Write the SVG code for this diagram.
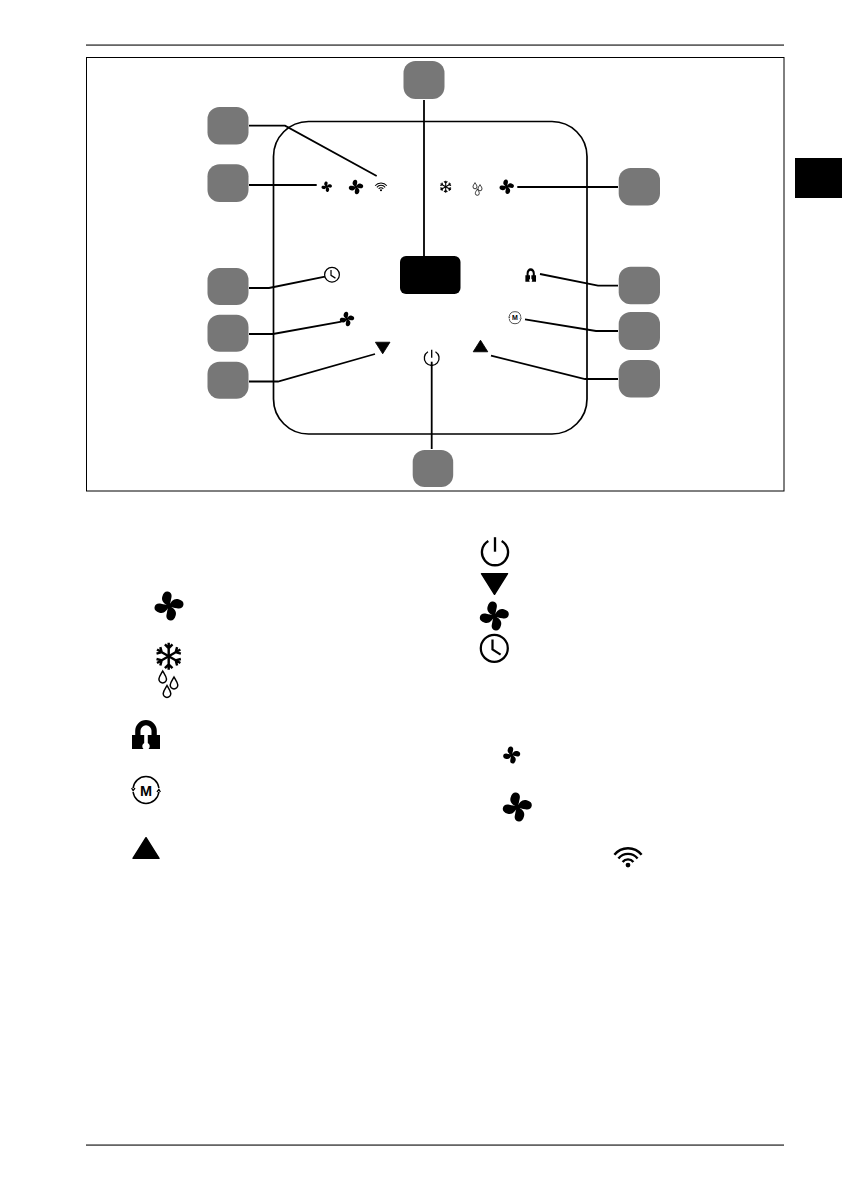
<svg xmlns="http://www.w3.org/2000/svg" width="842" height="1191" viewBox="0 0 842 1191">
<style>
.n{fill:#777}
.c{fill:none;stroke:#000;stroke-width:1.8;stroke-linejoin:miter}
.i{fill:none;stroke:#000;stroke-linecap:butt}
.m{font-family:"Liberation Sans",Arial,sans-serif;font-weight:700;text-anchor:middle;fill:#000;opacity:.99}
</style>
<defs>
<g id="fan"><path id="blade" d="M0.3,0.3C-3.3,-1.3 -5.6,-3.6 -4.6,-6.6C-3.9,-9 -2.6,-10.2 -1,-10C1.5,-9.8 2.2,-7.5 1.6,-5.5C1.2,-3.5 0.9,-2 0.3,0.3Z" fill="#000"/><use href="#blade" transform="rotate(90)"/><use href="#blade" transform="rotate(180)"/><use href="#blade" transform="rotate(270)"/><circle r="1.8" fill="#000"/></g>
<g id="clock" class="i"><circle r="9" stroke-width="1.5"/><path d="M-1.2,-5.8V0.8L4.2,4.2" stroke-width="1.5"/></g>
<g id="power" class="i"><path d="M-4.6,-7.6A9,9 0 1 0 4.6,-7.6" stroke-width="1.6"/><path d="M0,-10.2V-0.2" stroke-width="1.6"/></g>
<g id="snow" class="i" stroke-width="1.8"><g id="arm"><path d="M0,-10V10M-2.8,-8.8L0,-6L2.8,-8.8M-2.8,8.8L0,6L2.8,8.8"/></g><use href="#arm" transform="rotate(60)"/><use href="#arm" transform="rotate(120)"/></g>
<path id="drop" d="M0,-5.6C1.8,-2.6 3.3,-0.8 3.3,1.4A3.3,3.3 0 0 1 -3.3,1.4C-3.3,-0.8 -1.8,-2.6 0,-5.6Z" fill="#fff" stroke="#000" stroke-width="1.3"/>
<path id="lock" d="M-14,0H-10.8V-4.2A10.8,10.8 0 0 1 10.8,-4.2V0H14V14H2.5A3.7,3.7 0 0 0 1.8,7.97V0H5.5V-4.2A5.5,5.5 0 0 0 -5.5,-4.2V0H-1.8V7.97A3.7,3.7 0 0 0 -2.5,14H-14Z" fill="#000"/>
<g id="ring" class="i" stroke-width="1.5"><path d="M-12.9,-2A13,13 0 0 1 12.9,-2M12.9,2A13,13 0 0 1 -12.9,2"/><path d="M-14.4,-2L-12.9,0.6L-11,-2M14.4,2L12.9,-0.6L11,2" stroke-width="1.3"/></g>
<path id="up" d="M0,-10.3L13,10.3H-13Z" fill="#000" stroke="#000" stroke-width="1.5" stroke-linejoin="round"/>
<g id="wifi" class="i" stroke-width="2.4"><path d="M-13.6,-8.8A17.5,17.5 0 0 1 13.6,-8.8M-9.6,-5A12.2,12.2 0 0 1 9.6,-5M-5.4,-1.6A7,7 0 0 1 5.4,-1.6"/><circle cy="1.6" r="2.4" fill="#000" stroke="none"/></g>
</defs>

<g id="page">
<rect x="86" y="44.3" width="698" height="1.6" fill="#555"/>
<rect x="86" y="1144.3" width="698" height="1.6" fill="#555"/>
<rect x="795" y="158" width="47" height="40" fill="#000"/>
<rect x="86.5" y="57.5" width="697.5" height="433.5" fill="none" stroke="#000" stroke-width="1"/>
</g>

<g id="panel">
<rect x="273.5" y="121.5" width="313.5" height="312.5" rx="35" fill="none" stroke="#000" stroke-width="1.7"/>
<rect id="display" x="400" y="256" width="60.5" height="38" rx="6" fill="#000"/>
</g>

<g id="connectors">
<path class="c" d="M249,125.7H285L376.7,176"/>
<path class="c" d="M249,185H316.7"/>
<path class="c" d="M424,100V258"/>
<path class="c" d="M249,288H269L325,276.7"/>
<path class="c" d="M249,334H273L341.5,321.7"/>
<path class="c" d="M249,381.5H278L375,354"/>
<path class="c" d="M431.7,361.7V449"/>
<path class="c" d="M517.3,187H618"/>
<path class="c" d="M540,274L598,285.7H618"/>
<path class="c" d="M525,319.3L596,331H618"/>
<path class="c" d="M491,355.7L585,379H618"/>
</g>

<g id="node-1"><rect class="n" x="403.5" y="61" width="41" height="38" rx="12"/></g>
<g id="node-2"><rect class="n" x="207.5" y="107" width="41" height="37.5" rx="12"/></g>
<g id="node-3"><rect class="n" x="207.5" y="164.3" width="41" height="37.7" rx="12"/></g>
<g id="node-4"><rect class="n" x="207.5" y="268" width="41" height="37" rx="12"/></g>
<g id="node-5"><rect class="n" x="207.5" y="314.7" width="41" height="37" rx="12"/></g>
<g id="node-6"><rect class="n" x="207.5" y="361.7" width="41" height="37" rx="12"/></g>
<g id="node-7"><rect class="n" x="412.7" y="450" width="40.5" height="37" rx="12"/></g>
<g id="node-8"><rect class="n" x="618.7" y="168" width="41.3" height="37.5" rx="12"/></g>
<g id="node-9"><rect class="n" x="618.7" y="266.7" width="41.3" height="37.5" rx="12"/></g>
<g id="node-10"><rect class="n" x="618.7" y="312" width="41.3" height="38" rx="12"/></g>
<g id="node-11"><rect class="n" x="618.7" y="360" width="41.3" height="37.5" rx="12"/></g>

<g id="panel-icons">
<use href="#fan" transform="translate(326.7,186.7) scale(.52)"/>
<use href="#fan" transform="translate(356,187) scale(.72)"/>
<use href="#wifi" transform="translate(381,189.5) scale(.43)"/>
<use href="#snow" transform="translate(445.7,186.7) scale(.6)"/>
<use href="#drop" transform="translate(475,186) scale(.6)"/>
<use href="#drop" transform="translate(480,188) scale(.6)"/>
<use href="#drop" transform="translate(477.3,192.5) scale(.6)"/>
<use href="#fan" transform="translate(506.7,186.7) scale(.72)"/>
<use href="#lock" transform="translate(530.7,275.2) scale(.38,.46)"/>
<use href="#ring" transform="translate(515,317.7) scale(.45)"/>
<text class="m" x="515" y="320.4" font-size="7">M</text>
<use href="#up" transform="translate(480.5,346) scale(.56)"/>
<use href="#power" transform="translate(431.7,358) scale(.82)"/>
<use href="#up" transform="translate(382.7,348) scale(.56,-.56)"/>
<use href="#fan" transform="translate(347,319) scale(.72)"/>
<use href="#clock" transform="translate(332,274.7) scale(.82)"/>
</g>

<g id="legend-icons">
<use href="#fan" transform="translate(169,606) scale(1.45)"/>
<use href="#snow" transform="translate(168.7,656.3) scale(1.35)"/>
<use href="#drop" transform="translate(162.7,677.5) scale(1.15)"/>
<use href="#drop" transform="translate(174,683.5) scale(1.15)"/>
<use href="#drop" transform="translate(167,692) scale(1.15)"/>
<use href="#lock" transform="translate(146,735)"/>
<use href="#ring" transform="translate(146,790)"/>
<text class="m" x="146" y="796" font-size="14.5">M</text>
<use href="#up" transform="translate(146,848)"/>
<use href="#power" transform="translate(495,552) scale(1.45)"/>
<use href="#up" transform="translate(494.5,584) scale(1,-1)"/>
<use href="#fan" transform="translate(494.3,616) scale(1.45)"/>
<use href="#clock" transform="translate(494.3,648.3) scale(1.5)"/>
<use href="#fan" transform="translate(511.7,755) scale(.85)"/>
<use href="#fan" transform="translate(517.3,807) scale(1.45)"/>
<use href="#wifi" transform="translate(628,863.5)"/>
</g>
</svg>
